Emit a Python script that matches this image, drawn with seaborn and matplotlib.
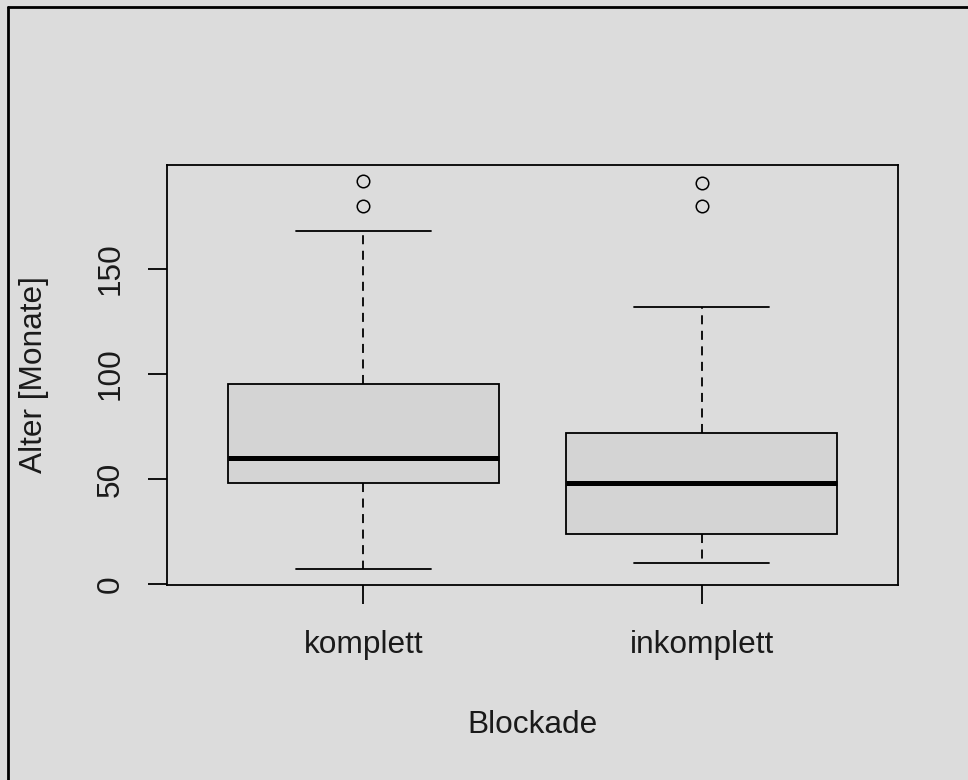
import numpy as np
import pandas as pd
import matplotlib
matplotlib.use("Agg")
import matplotlib.pyplot as plt
from matplotlib.lines import Line2D
import seaborn as sns

# ---- data (five-number summaries + outliers) ----
categories = ["komplett", "inkomplett"]
whisker_low = [7, 10]
q1 = [48, 24]
median = [60, 48]
q3 = [95, 72]
whisker_high = [168, 132]
outliers = [[180, 192], [180, 191]]
y_ticks = [0, 50, 100, 150]
x_label = "Blockade"
y_label = "Alter [Monate]"

# Build a sample table whose quartiles/whiskers reproduce the summaries exactly
rows = []
for i, cat in enumerate(categories):
    vals = np.repeat([whisker_low[i], q1[i], median[i], q3[i], whisker_high[i]],
                     [1, 3, 3, 3, 1]).tolist() + outliers[i]
    rows += [(cat, v) for v in vals]
df = pd.DataFrame(rows, columns=["Blockade", "Alter"])

BG = "#dcdcdc"
sns.set_style("white", {"axes.facecolor": BG, "figure.facecolor": BG})
plt.rcParams["font.family"] = ["Liberation Sans", "DejaVu Sans"]
FS = 22.8
TXT = "#1a1a1a"

fig = plt.figure(figsize=(9.68, 7.80), dpi=100)
fig.patch.set_facecolor(BG)
ax = fig.add_axes([167 / 968, 1 - 585 / 780, (898 - 167) / 968, (585 - 165) / 780])
ax.set_facecolor(BG)

LW = 1.3
sns.boxplot(
    data=df, x="Blockade", y="Alter", order=categories, ax=ax,
    color="#d4d4d4", saturation=1, width=0.8, whis=1.6,
    linecolor="black", linewidth=LW,
    medianprops=dict(color="black", linewidth=3.6, solid_capstyle="butt"),
    whiskerprops=dict(color="black", linewidth=LW, linestyle=(0, (5.0, 3.6))),
    capprops=dict(color="black", linewidth=LW),
    flierprops=dict(marker="o", markerfacecolor="none", markeredgecolor="black",
                    markersize=9, markeredgewidth=1.1),
)

ax.set_xlim(-0.58, 1.58)
ax.set_ylim(-0.4, 199.4)
ax.set_yticks(y_ticks)
ax.set_yticklabels([str(t) for t in y_ticks], rotation=90, va="center",
                   fontsize=FS, color=TXT)
ax.set_xticks(range(len(categories)))
ax.set_xticklabels(categories, fontsize=FS, color=TXT)
ax.tick_params(axis="both", which="major", direction="out", length=13.7,
               width=LW, color="black", left=True, bottom=True)
ax.tick_params(axis="x", pad=19)
ax.tick_params(axis="y", pad=16)

for s in ax.spines.values():
    s.set_visible(True)
    s.set_color("black")
    s.set_linewidth(LW)

ax.set_xlabel(x_label, fontsize=FS, color=TXT)
ax.set_ylabel(y_label, fontsize=FS, color=TXT)
ax.xaxis.set_label_coords(0.5, (585 - 725) / 420)
ax.xaxis.label.set_va("center")
ax.yaxis.set_label_coords((34 - 167) / 731, 0.5)
ax.yaxis.label.set_va("center")

# outer frame lines (left & top) of the screenshot
fig.add_artist(Line2D([7.5 / 968, 7.5 / 968], [0, 1 - 7 / 780],
                      transform=fig.transFigure, color="black", linewidth=2.0))
fig.add_artist(Line2D([7.5 / 968, 1], [1 - 7 / 780, 1 - 7 / 780],
                      transform=fig.transFigure, color="black", linewidth=2.0))

fig.savefig("out.png", dpi=100, facecolor=BG)
